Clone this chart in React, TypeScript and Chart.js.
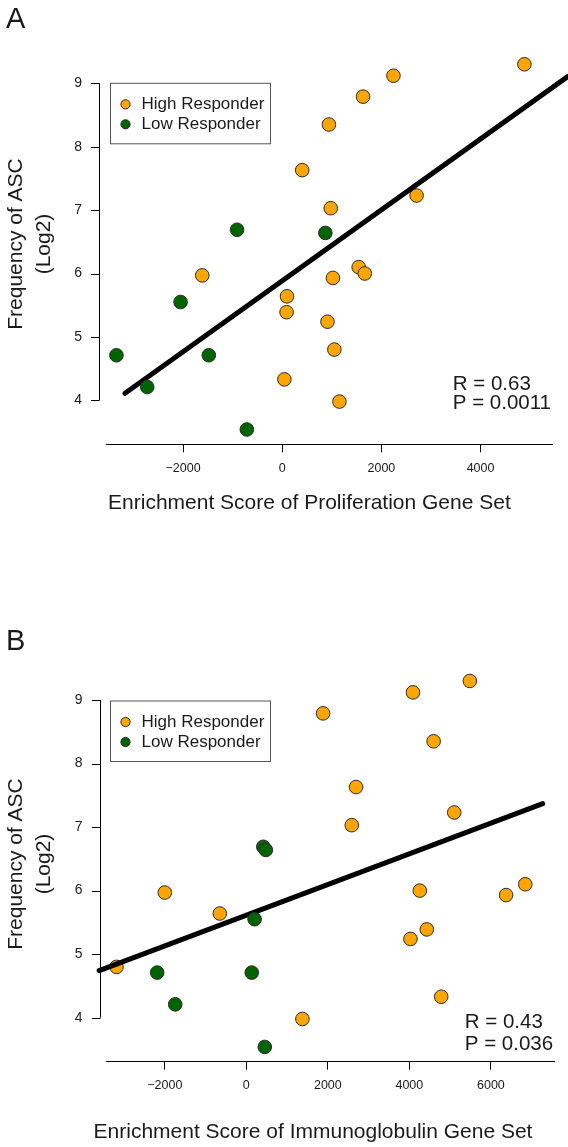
import React, { useEffect, useRef } from 'react';
import { Chart, registerables } from 'chart.js';

Chart.register(...registerables);

// ---------------- data ----------------
// Frequency of ASC (Log2), one entry per subject
const highASC = [9.30, 9.12, 8.79, 8.35, 7.63, 7.23, 7.03, 6.10, 6.00, 5.97, 5.93, 5.64, 5.39, 5.24, 4.80, 4.33, 3.98];
const lowASC = [6.69, 6.64, 5.55, 4.71, 4.71, 4.21, 3.54];

// Enrichment score of proliferation gene set (panel A)
const highProlif = [4885, 2243, 1630, 942, 403, 2710, 979, 1542, 1665, -1612, 1023, 96, 88, 913, 1052, 44, 1154];
const lowProlif = [-911, 870, -2050, -3343, -1481, -2723, -714];

// Enrichment score of immunoglobulin gene set (panel B)
const highIg = [5483, 4088, 1883, 4595, 2693, 5101, 2587, 6843, 4256, -2000, 6373, -651, 4427, 4027, -3184, 4781, 1376];
const lowIg = [416, 480, 203, -2187, 133, -1744, 453];

// Regression lines (end points)
const fitProlifX = [-3170, 5764];
const fitProlifY = [4.11, 9.11];
const fitIgX = [-3610, 7271];
const fitIgY = [4.74, 7.37];

// Ticks
const yTicks = [4, 5, 6, 7, 8, 9];
const xTicksProlif = [-2000, 0, 2000, 4000];
const xTicksIg = [-2000, 0, 2000, 4000, 6000];

// Text
const seriesNames = ['High Responder', 'Low Responder'];
const yTitle = ['Frequency of ASC', '(Log2)'];
const xTitleProlif = 'Enrichment Score of Proliferation Gene Set';
const xTitleIg = 'Enrichment Score of Immunoglobulin Gene Set';
const statsProlif = ['R = 0.63', 'P = 0.0011'];
const statsIg = ['R = 0.43', 'P = 0.036'];

// ---------------- styling / layout ----------------
const FONT = '"Liberation Sans", Arial, Helvetica, sans-serif';
const TEXT = '#1a1a1a';
const ORANGE = '#FFA500';
const GREEN = '#006400';

const pts = (xs: number[], ys: number[]) => xs.map((x, i) => ({ x, y: ys[i] }));
const fmt = (v: number) => (v < 0 ? '\u2212' + Math.abs(v) : String(v));

const decorPlugin = {
  id: 'panelDecor',
  afterDraw(chart: any, _a: any, o: any) {
    const ctx = chart.ctx as CanvasRenderingContext2D;
    const ys = chart.scales.y;
    const area = chart.chartArea;
    ctx.save();

    // y axis (R style: spans first to last tick, offset from plot region)
    const ax = Math.round(area.left - 7) + 0.5;
    ctx.strokeStyle = '#000';
    ctx.lineWidth = 1;
    ctx.beginPath();
    ctx.moveTo(ax, ys.getPixelForValue(o.yTicks[0]));
    ctx.lineTo(ax, ys.getPixelForValue(o.yTicks[o.yTicks.length - 1]));
    for (const t of o.yTicks) {
      const py = Math.round(ys.getPixelForValue(t)) + 0.5;
      ctx.moveTo(ax - 8.5, py);
      ctx.lineTo(ax, py);
    }
    ctx.stroke();

    ctx.fillStyle = TEXT;

    // panel letter
    ctx.font = `29px ${FONT}`;
    ctx.textAlign = 'left';
    ctx.textBaseline = 'alphabetic';
    ctx.fillText(o.letter, 6, o.letterBaseline);

    // y title (two rotated lines)
    ctx.font = `21px ${FONT}`;
    ctx.textAlign = 'center';
    ctx.textBaseline = 'middle';
    o.yTitle.forEach((line: string, i: number) => {
      ctx.save();
      ctx.translate(o.yTitleX[i], o.yTitleY);
      ctx.rotate(-Math.PI / 2);
      ctx.fillText(line, 0, 0);
      ctx.restore();
    });

    // x title
    ctx.fillText(o.xTitle, o.xTitleX, o.xTitleY);

    // stats
    ctx.font = `20.5px ${FONT}`;
    ctx.textAlign = 'left';
    ctx.textBaseline = 'alphabetic';
    o.stats.forEach((s: string, i: number) => ctx.fillText(s, o.statsX, o.statsBaselines[i]));

    // legend
    const lx = 110.5, lw = 160, lh = 60.5, lt = o.legendTop;
    ctx.strokeStyle = '#555';
    ctx.lineWidth = 1;
    ctx.strokeRect(lx, lt, lw, lh);
    ctx.font = `17px ${FONT}`;
    ctx.textBaseline = 'middle';
    const items = chart.data.datasets.filter((d: any) => d.inLegend);
    items.sort((a: any, b: any) => a.legendIndex - b.legendIndex);
    items.forEach((d: any, i: number) => {
      const cy = lt + 21 + i * 20;
      ctx.beginPath();
      ctx.arc(lx + 15, cy, 4.6, 0, Math.PI * 2);
      ctx.fillStyle = d.backgroundColor;
      ctx.fill();
      ctx.strokeStyle = '#2a2a2a';
      ctx.stroke();
      ctx.fillStyle = TEXT;
      ctx.fillText(d.label, lx + 31, cy + 0.5);
    });

    ctx.restore();
  },
};

type PanelProps = {
  height: number;
  padTop: number;
  padBottom: number;
  padRight: number;
  yScaleWidth: number;
  xMin: number;
  xMax: number;
  yMin: number;
  yMax: number;
  xTicks: number[];
  highX: number[];
  lowX: number[];
  fitX: number[];
  fitY: number[];
  decor: any;
};

function Panel(p: PanelProps) {
  const ref = useRef<HTMLCanvasElement | null>(null);
  useEffect(() => {
    if (!ref.current) return;
    const pointStyle = {
      pointRadius: 6.8,
      pointHoverRadius: 6.8,
      pointBorderWidth: 1,
      borderColor: '#2a2a2a',
      borderWidth: 1,
    };
    const chart = new Chart(ref.current, {
      type: 'scatter',
      data: {
        datasets: [
          {
            label: seriesNames[0],
            data: pts(p.highX, highASC),
            backgroundColor: ORANGE,
            ...pointStyle,
            order: 2,
            inLegend: true,
            legendIndex: 0,
          } as any,
          {
            type: 'line',
            label: 'fit',
            data: pts(p.fitX, p.fitY),
            borderColor: '#000',
            borderWidth: 5,
            borderCapStyle: 'round',
            pointRadius: 0,
            showLine: true,
            fill: false,
            clip: false,
            order: 1,
          } as any,
          {
            label: seriesNames[1],
            data: pts(p.lowX, lowASC),
            backgroundColor: GREEN,
            ...pointStyle,
            order: 0,
            inLegend: true,
            legendIndex: 1,
          } as any,
        ],
      },
      options: {
        responsive: false,
        animation: false,
        devicePixelRatio: 1,
        events: [],
        layout: { padding: { left: 0, right: p.padRight, top: p.padTop, bottom: p.padBottom } },
        plugins: {
          legend: { display: false },
          tooltip: { enabled: false },
          panelDecor: p.decor,
        } as any,
        scales: {
          x: {
            type: 'linear',
            min: p.xMin,
            max: p.xMax,
            afterBuildTicks: (s: any) => {
              s.ticks = p.xTicks.map((v) => ({ value: v }));
            },
            afterFit: (s: any) => {
              s.height = 40;
            },
            grid: {
              display: true,
              drawOnChartArea: false,
              drawTicks: true,
              tickLength: 8,
              color: '#000',
              lineWidth: 1,
            },
            border: { display: true, color: '#000', width: 1 },
            ticks: {
              color: TEXT,
              font: { family: FONT, size: 12.5 },
              padding: 8.5,
              maxRotation: 0,
              autoSkip: false,
              callback: (v: any) => fmt(Number(v)),
            },
          },
          y: {
            type: 'linear',
            min: p.yMin,
            max: p.yMax,
            afterBuildTicks: (s: any) => {
              s.ticks = yTicks.map((v) => ({ value: v }));
            },
            afterFit: (s: any) => {
              s.width = p.yScaleWidth;
            },
            grid: { display: false, drawTicks: false },
            border: { display: false },
            ticks: {
              color: TEXT,
              font: { family: FONT, size: 14 },
              padding: 24,
              autoSkip: false,
              callback: (v: any) => String(v),
            },
          },
        },
      },
      plugins: [decorPlugin],
    } as any);
    return () => chart.destroy();
  }, []);
  return (
    <canvas
      ref={ref}
      width={568}
      height={p.height}
      style={{ display: 'block', width: 568, height: p.height }}
    />
  );
}

export default function App() {
  return (
    <div style={{ position: 'absolute', left: 0, top: 0, width: 568, height: 1147, background: '#fff' }}>
      <Panel
        height={575}
        padTop={40}
        padBottom={90.7}
        padRight={16}
        yScaleWidth={106}
        xMin={-3554}
        xMax={5441}
        yMin={3.306}
        yMax={9.683}
        xTicks={xTicksProlif}
        highX={highProlif}
        lowX={lowProlif}
        fitX={fitProlifX}
        fitY={fitProlifY}
        decor={{
          letter: 'A',
          letterBaseline: 28.3,
          yTicks,
          yTitle,
          yTitleX: [16.5, 44],
          yTitleY: 244,
          xTitle: xTitleProlif,
          xTitleX: 309.4,
          xTitleY: 503.3,
          stats: statsProlif,
          statsX: 452.8,
          statsBaselines: [390, 409.3],
          legendTop: 83.3,
        }}
      />
      <Panel
        height={572}
        padTop={82}
        padBottom={45.3}
        padRight={13.8}
        yScaleWidth={106.5}
        xMin={-3430}
        xMax={7553}
        yMin={3.3075}
        yMax={9.677}
        xTicks={xTicksIg}
        highX={highIg}
        lowX={lowIg}
        fitX={fitIgX}
        fitY={fitIgY}
        decor={{
          letter: 'B',
          letterBaseline: 75,
          yTicks,
          yTitle,
          yTitleX: [16.5, 44],
          yTitleY: 289,
          xTitle: xTitleIg,
          xTitleX: 313,
          xTitleY: 557.3,
          stats: statsIg,
          statsX: 464.8,
          statsBaselines: [453.3, 475],
          legendTop: 126,
        }}
      />
    </div>
  );
}
